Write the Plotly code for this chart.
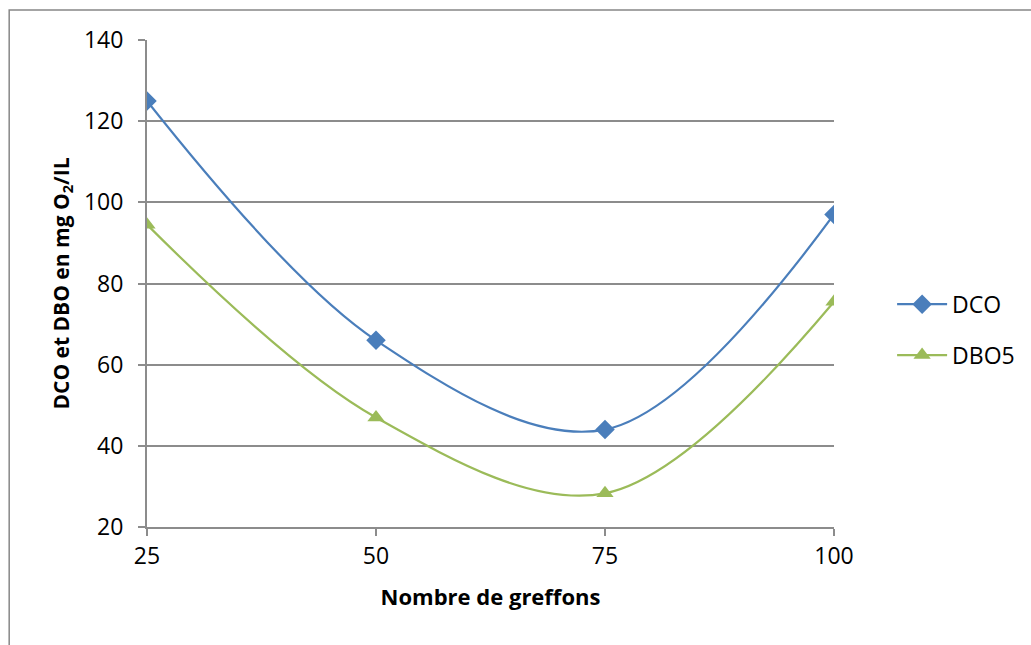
import plotly.graph_objects as go

x_vals = [25, 50, 75, 100]
dco = [125, 66, 44, 97]
dbo5 = [94.5, 47, 28.3, 75.5]
y_ticks = [20, 40, 60, 80, 100, 120, 140]

BLUE = "#4A7EBB"
GREEN = "#9BBB59"
GRID = "#8C8C8C"
FONT = "Open Sans"

fig = go.Figure()
fig.add_trace(go.Scatter(
    x=x_vals, y=dco, name="DCO", mode="lines+markers", legendgroup="a",
    line=dict(color=BLUE, width=2.2, shape="spline", smoothing=1.0),
    marker=dict(symbol="diamond", size=15, color=BLUE),
))
fig.add_trace(go.Scatter(
    x=x_vals, y=dbo5, name="DBO5", mode="lines+markers", legendgroup="b",
    line=dict(color=GREEN, width=2.2, shape="spline", smoothing=1.0),
    marker=dict(symbol="triangle-up", size=15, color=GREEN),
))

fig.update_layout(
    width=1031, height=645,
    margin=dict(l=147, r=196, t=40, b=118),
    paper_bgcolor="white", plot_bgcolor="white",
    font=dict(family=FONT, size=23, color="black"),
    showlegend=True,
    legend=dict(x=1.083, y=0.405, xanchor="left", yanchor="middle",
                font=dict(family=FONT, size=23, color="black"),
                itemwidth=50, tracegroupgap=18, bgcolor="rgba(0,0,0,0)"),
    xaxis=dict(range=[25, 100], tickvals=x_vals, ticktext=[str(v) for v in x_vals],
               showgrid=False, zeroline=False, showline=True, linecolor=GRID, linewidth=2,
               ticks="outside", ticklen=7, tickwidth=2, tickcolor=GRID,
               tickfont=dict(family=FONT, size=23),
               title=dict(text="<b>Nombre de greffons</b>", standoff=20,
                          font=dict(family=FONT, size=22))),
    yaxis=dict(range=[20, 140], tickvals=y_ticks,
               showgrid=True, gridcolor=GRID, gridwidth=1.5, zeroline=False,
               showline=True, linecolor=GRID, linewidth=2,
               ticks="outside", ticklen=7, tickwidth=2, tickcolor=GRID,
               ticklabelstandoff=10,
               tickfont=dict(family=FONT, size=23),
               title=dict(text="<b>DCO et DBO en mg O<sub>2</sub>/IL</b>", standoff=9,
                          font=dict(family=FONT, size=21))),
    shapes=[dict(type="rect", xref="paper", yref="paper",
                 x0=-0.2006, x1=1.35, y0=-0.3, y1=1.0616,
                 line=dict(color="#878787", width=1.5), fillcolor="rgba(0,0,0,0)", layer="below")],
)

fig.write_html("out.html")
